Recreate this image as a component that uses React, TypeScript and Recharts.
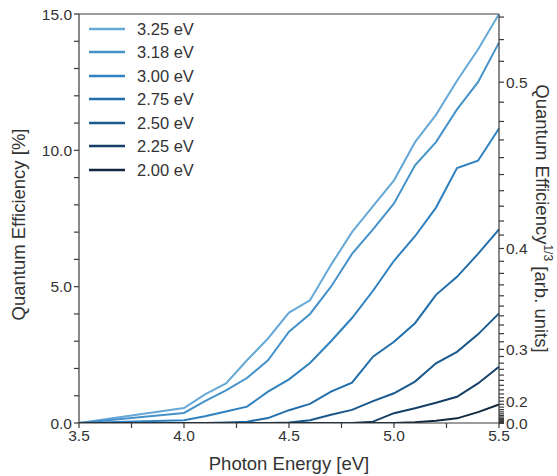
import React from "react";
import { LineChart, Line, XAxis, YAxis, Legend, ReferenceLine, Label } from "recharts";

// photon energies (eV) at which quantum efficiency was measured
const energies = [3.5, 4.0, 4.1, 4.2, 4.3, 4.4, 4.5, 4.6, 4.7, 4.8, 4.9, 5.0, 5.1, 5.2, 5.3, 5.4, 5.5];

// quantum efficiency [%] per pump energy
const qe325 = [0, 0.55, 1.05, 1.45, 2.3, 3.1, 4.05, 4.5, 5.8, 7.0, 7.95, 8.9, 10.3, 11.3, 12.55, 13.7, 15.0];
const qe318 = [0, 0.37, 0.8, 1.2, 1.65, 2.3, 3.35, 4.0, 5.0, 6.2, 7.1, 8.05, 9.45, 10.3, 11.5, 12.5, 13.95];
const qe300 = [0, 0.1, 0.25, 0.42, 0.6, 1.15, 1.6, 2.2, 3.0, 3.85, 4.85, 5.95, 6.85, 7.9, 9.35, 9.62, 10.8];
const qe275 = [0, 0, 0, 0.02, 0.05, 0.18, 0.47, 0.7, 1.15, 1.48, 2.43, 2.98, 3.66, 4.7, 5.36, 6.2, 7.1];
const qe250 = [0, 0, 0, 0, 0, 0, 0.02, 0.1, 0.3, 0.48, 0.8, 1.09, 1.52, 2.19, 2.61, 3.25, 4.02];
const qe225 = [0, 0, 0, 0, 0, 0, 0, 0, 0, 0, 0.05, 0.36, 0.54, 0.74, 0.96, 1.45, 2.06];
const qe200 = [0, 0, 0, 0, 0, 0, 0, 0, 0, 0, 0, 0, 0.03, 0.08, 0.17, 0.4, 0.68];

const seriesNames = ["3.25 eV", "3.18 eV", "3.00 eV", "2.75 eV", "2.50 eV", "2.25 eV", "2.00 eV"];
const seriesValues = [qe325, qe318, qe300, qe275, qe250, qe225, qe200];
const seriesColors = ["#66a8d6", "#4693ca", "#2f81bf", "#226eab", "#1b588c", "#163f67", "#112840"];

// axis ticks
const xTicks = [3.5, 3.75, 4.0, 4.25, 4.5, 4.75, 5.0, 5.25, 5.5];
const xLabels = [3.5, 4.0, 4.5, 5.0, 5.5];
const leftTicks = [0, 1, 2, 3, 4, 5, 6, 7, 8, 9, 10, 11, 12, 13, 14, 15];
const leftLabels = [0, 5, 10, 15];
const rightLabels = [0.0, 0.2, 0.3, 0.4, 0.5];
const rightMinorCount = 54; // 0.00 .. 0.53 in steps of 0.01

// cube-root axis: tick t sits at QE% = 100 * t^3
const rightTicks = Array.from({ length: rightMinorCount }, (_, i) => 100 * Math.pow(i / 100, 3));

const rows = energies.map((e, i) => {
  const row: Record<string, number> = { e };
  seriesNames.forEach((n, s) => {
    row[n] = seriesValues[s][i];
  });
  return row;
});

const FONT = "'Liberation Sans', Arial, sans-serif";
const AXIS = "#3a3a3a";
const TITLE_SIZE = 18.5;
const tickStyle = { fill: "#333", fontSize: 15.5, fontFamily: FONT };

const fmtX = (v: number) => (xLabels.some((l) => Math.abs(l - v) < 1e-6) ? v.toFixed(1) : "");
const fmtLeft = (v: number) => (leftLabels.includes(v) ? v.toFixed(1) : "");
const fmtRight = (v: number) => {
  const t = Math.round(Math.cbrt(v / 100) * 100) / 100;
  return rightLabels.includes(t) ? t.toFixed(1) : "";
};

const LegendBox = () => (
  <div style={{ fontFamily: FONT, fontSize: 16.5, color: "#333", lineHeight: 1 }}>
    {seriesNames.map((n, i) => (
      <div key={n} style={{ display: "flex", alignItems: "center", height: 23.5 }}>
        <svg width={36} height={6} style={{ marginRight: 12 }}>
          <line x1={0} x2={36} y1={3} y2={3} stroke={seriesColors[i]} strokeWidth={2.5} />
        </svg>
        {n}
      </div>
    ))}
  </div>
);

export default function App() {
  return (
    <div style={{ position: "fixed", left: 0, top: 0, width: 557, height: 476, background: "#fff" }}>
      <LineChart width={557} height={476} data={rows} margin={{ top: 14, right: 0, bottom: 0, left: 0 }}>
        <XAxis
          dataKey="e"
          type="number"
          domain={[3.5, 5.5]}
          ticks={xTicks}
          interval={0}
          tickFormatter={fmtX}
          height={53}
          tickSize={5}
          stroke={AXIS}
          strokeWidth={1.2}
          tick={tickStyle}
        >
          <Label
            content={({ viewBox }: any) => (
              <text x={viewBox.x + viewBox.width / 2} y={viewBox.y + 47} textAnchor="middle" fill="#333" fontSize={TITLE_SIZE} fontFamily={FONT}>
                Photon Energy [eV]
              </text>
            )}
          />
        </XAxis>
        <YAxis
          yAxisId="left"
          orientation="left"
          domain={[0, 15]}
          ticks={leftTicks}
          interval={0}
          tickFormatter={fmtLeft}
          width={79}
          tickSize={5}
          stroke={AXIS}
          strokeWidth={1.2}
          tick={tickStyle}
          allowDataOverflow
        >
          <Label
            content={({ viewBox }: any) => {
              const x = viewBox.x + 18;
              const y = viewBox.y + viewBox.height / 2 + 6;
              return (
                <text x={x} y={y} transform={`rotate(-90, ${x}, ${y})`} textAnchor="middle" dominantBaseline="central" fill="#333" fontSize={TITLE_SIZE} fontFamily={FONT}>
                  Quantum Efficiency [%]
                </text>
              );
            }}
          />
        </YAxis>
        <YAxis
          yAxisId="right"
          orientation="right"
          domain={[0, 15]}
          ticks={rightTicks}
          interval={0}
          tickFormatter={fmtRight}
          width={58}
          tickSize={5}
          stroke={AXIS}
          strokeWidth={1.2}
          tick={tickStyle}
          allowDataOverflow
        >
          <Label
            content={({ viewBox }: any) => {
              const x = viewBox.x + 43;
              const y = viewBox.y + viewBox.height / 2;
              return (
                <text x={x} y={y} transform={`rotate(90, ${x}, ${y})`} textAnchor="middle" dominantBaseline="central" fill="#333" fontSize={TITLE_SIZE} fontFamily={FONT}>
                  Quantum Efficiency
                  <tspan dy={-6} fontSize={12}>1/3</tspan>
                  <tspan dy={6}> [arb. units]</tspan>
                </text>
              );
            }}
          />
        </YAxis>
        <ReferenceLine yAxisId="left" y={15} stroke={AXIS} strokeWidth={1.2} />
        <Legend
          layout="vertical"
          verticalAlign="middle"
          align="center"
          content={() => <LegendBox />}
          wrapperStyle={{ left: 89, top: 17, width: "auto", height: "auto" }}
        />
        {seriesNames.map((n, i) => (
          <Line
            key={n}
            yAxisId="left"
            type="linear"
            dataKey={n}
            stroke={seriesColors[i]}
            strokeWidth={2}
            dot={false}
            isAnimationActive={false}
          />
        ))}
      </LineChart>
    </div>
  );
}
